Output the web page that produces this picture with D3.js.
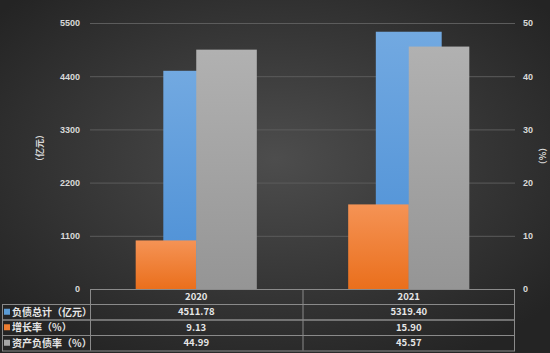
<!DOCTYPE html>
<html>
<head>
<meta charset="utf-8">
<script src="https://cdn.jsdelivr.net/npm/d3@7"></script>
<style>
  html, body { margin: 0; padding: 0; background: #2e2e2e; }
  svg { display: block; font-family: "Noto Sans CJK SC", "Noto Sans", sans-serif; }
</style>
</head>
<body>
<svg id="chart" width="550" height="353"></svg>
<script>
// data
const years = ["2020", "2021"];
const debtTotal = [4511.78, 5319.40];   // 负债总计（亿元）, left axis
const growthRate = [9.13, 15.90];        // 增长率（%）, right axis
const debtRatio = [44.99, 45.57];        // 资产负债率（%）, right axis
const leftTicks = [0, 1100, 2200, 3300, 4400, 5500];
const rightTicks = [0, 10, 20, 30, 40, 50];
const seriesNames = ["负债总计（亿元）", "增长率（%）", "资产负债率（%）"];
const valueLabels = [
  ["4511.78", "5319.40"],
  ["9.13", "15.90"],
  ["44.99", "45.57"]
];

const width = 550, height = 353;
const margin = {top: 23, right: 35, bottom: 64, left: 90};
const plotW = width - margin.left - margin.right;
const zeroY = height - margin.bottom;

const svg = d3.select("#chart");
const defs = svg.append("defs");

const bg = defs.append("radialGradient").attr("id", "bg")
  .attr("cx", "50%").attr("cy", "45%").attr("r", "65%");
bg.append("stop").attr("offset", "0%").attr("stop-color", "#4d4d4d");
bg.append("stop").attr("offset", "100%").attr("stop-color", "#242424");

function vGrad(id, top, bottom) {
  const g = defs.append("linearGradient").attr("id", id)
    .attr("x1", 0).attr("y1", 0).attr("x2", 0).attr("y2", 1);
  g.append("stop").attr("offset", "0%").attr("stop-color", top);
  g.append("stop").attr("offset", "100%").attr("stop-color", bottom);
}
vGrad("blue", "#72a9e1", "#4a8ed5");
vGrad("orange", "#f59355", "#ea6f1c");
vGrad("gray", "#b1b1b1", "#959595");
const colors = ["url(#blue)", "url(#orange)", "url(#gray)"];
const keyColors = ["#5b9bd5", "#ed7d31", "#a5a5a5"];

svg.append("rect").attr("width", width).attr("height", height).attr("fill", "url(#bg)");

const x = d3.scaleBand().domain(years).range([margin.left, margin.left + plotW]);
const yLeft = d3.scaleLinear().domain([0, 5500]).range([zeroY, margin.top]);
const yRight = d3.scaleLinear().domain([0, 50]).range([zeroY, margin.top]);

// gridlines
svg.append("g")
  .attr("transform", `translate(${margin.left},0)`)
  .call(d3.axisLeft(yLeft).tickValues(leftTicks).tickSize(-plotW).tickFormat(""))
  .call(g => g.select(".domain").remove())
  .call(g => g.selectAll("line").attr("stroke", "#5c5c5c").attr("stroke-width", 1));

// left axis labels
svg.append("g")
  .attr("transform", `translate(${margin.left - 4},0)`)
  .call(d3.axisLeft(yLeft).tickValues(leftTicks).tickSize(0).tickPadding(6).tickFormat(d3.format("d")))
  .call(g => g.select(".domain").remove())
  .call(g => g.selectAll("text").attr("fill", "#d9d9d9").attr("font-size", 9).attr("font-weight", "bold"));

// right axis labels
svg.append("g")
  .attr("transform", `translate(${margin.left + plotW + 2},0)`)
  .call(d3.axisRight(yRight).tickValues(rightTicks).tickSize(0).tickPadding(6).tickFormat(d3.format("d")))
  .call(g => g.select(".domain").remove())
  .call(g => g.selectAll("text").attr("fill", "#d9d9d9").attr("font-size", 9).attr("font-weight", "bold"));

// axis titles
svg.append("text")
  .attr("transform", `translate(43,${(margin.top + zeroY) / 2 - 8}) rotate(-90)`)
  .attr("text-anchor", "middle").attr("fill", "#d9d9d9").attr("font-size", 9).attr("font-weight", "bold")
  .text("（亿元）");
svg.append("text")
  .attr("transform", `translate(546,${(margin.top + zeroY) / 2}) rotate(-90)`)
  .attr("text-anchor", "middle").attr("fill", "#d9d9d9").attr("font-size", 9).attr("font-weight", "bold")
  .text("（%）");

// bars: primary (blue) centred, secondary (orange, gray) side by side over it
const bw = x.bandwidth();
const blueW = bw * 0.31, secW = bw * 0.285;
const bars = svg.append("g");

bars.selectAll("rect.debt").data(years).join("rect")
  .attr("x", d => x(d) + bw / 2 - blueW / 2)
  .attr("y", (d, i) => yLeft(debtTotal[i]))
  .attr("width", blueW)
  .attr("height", (d, i) => zeroY - yLeft(debtTotal[i]))
  .attr("fill", colors[0]);

bars.selectAll("rect.growth").data(years).join("rect")
  .attr("x", d => x(d) + bw / 2 - secW)
  .attr("y", (d, i) => yRight(growthRate[i]))
  .attr("width", secW)
  .attr("height", (d, i) => zeroY - yRight(growthRate[i]))
  .attr("fill", colors[1]);

bars.selectAll("rect.ratio").data(years).join("rect")
  .attr("x", d => x(d) + bw / 2)
  .attr("y", (d, i) => yRight(debtRatio[i]))
  .attr("width", secW)
  .attr("height", (d, i) => zeroY - yRight(debtRatio[i]))
  .attr("fill", colors[2]);

// data table
const rowH = [15, 15.5, 15.5, 15.5];
const rowY = [zeroY];
rowH.forEach((h, i) => rowY.push(rowY[i] + h));
const tableRight = margin.left + plotW;
const lineCol = "#8a8a8a";
const table = svg.append("g").attr("fill", "none").attr("stroke", lineCol).attr("stroke-width", 1);

// header row box
table.append("rect").attr("x", margin.left + 0.5).attr("y", rowY[0] + 0.5)
  .attr("width", plotW - 1).attr("height", rowH[0]);
// body rows
for (let r = 1; r <= 3; r++) {
  table.append("rect").attr("x", 2.5).attr("y", rowY[r] + 0.5)
    .attr("width", tableRight - 3).attr("height", rowH[r]);
}
// vertical dividers
table.append("line").attr("x1", margin.left + 0.5).attr("x2", margin.left + 0.5)
  .attr("y1", rowY[0]).attr("y2", rowY[4]);
table.append("line").attr("x1", x(years[1]) + 0.5).attr("x2", x(years[1]) + 0.5)
  .attr("y1", rowY[0]).attr("y2", rowY[4]);

const txt = svg.append("g").attr("fill", "#e6e6e6").attr("font-size", 9.5).attr("font-weight", "bold");
txt.selectAll("text.year").data(years).join("text")
  .attr("x", d => x(d) + bw / 2).attr("y", rowY[0] + rowH[0] / 2 + 3.5)
  .attr("text-anchor", "middle").text(d => d);

seriesNames.forEach((name, r) => {
  const cy = rowY[r + 1] + rowH[r + 1] / 2;
  svg.append("rect").attr("x", 4).attr("y", cy - 3).attr("width", 6).attr("height", 6)
    .attr("fill", keyColors[r]);
  txt.append("text").attr("x", 12).attr("y", cy + 4).attr("font-size", 10).text(name);
  years.forEach((yr, c) => {
    txt.append("text").attr("x", x(yr) + bw / 2).attr("y", cy + 3.5)
      .attr("text-anchor", "middle").text(valueLabels[r][c]);
  });
});
</script>
</body>
</html>
